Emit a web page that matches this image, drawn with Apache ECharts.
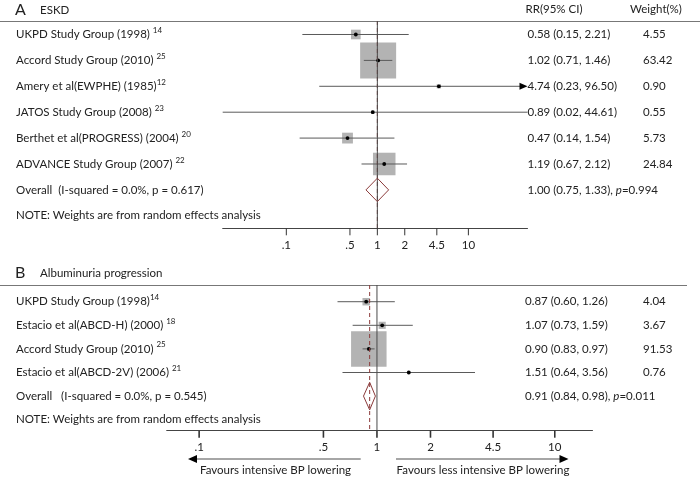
<!DOCTYPE html>
<html><head><meta charset="utf-8">
<script src="https://cdn.jsdelivr.net/npm/echarts@6/dist/echarts.min.js"></script>
<style>html,body{margin:0;padding:0;background:#fff}#c{width:700px;height:477px}</style>
</head><body><div id="c"></div>
<script>
// ---------- DATA ----------
const studiesA = ['UKPD Study Group (1998) ', 'Accord Study Group (2010) ', 'Amery et al(EWPHE) (1985)', 'JATOS Study Group (2008) ', 'Berthet et al(PROGRESS) (2004) ', 'ADVANCE Study Group (2007) '];
const refsA = ['14', '25', '12', '23', '20', '22'];
const rrA = [0.58, 1.02, 4.74, 0.89, 0.47, 1.19];
const lowA = [0.15, 0.71, 0.23, 0.02, 0.14, 0.67];
const highA = [2.21, 1.46, 96.50, 44.61, 1.54, 2.12];
const weightA = [4.55, 63.42, 0.90, 0.55, 5.73, 24.84];
const overallA = [1.00, 0.75, 1.33];
const overallPA = '0.994';
const overallLabelA = 'Overall  (I-squared = 0.0%, p = 0.617)';

const studiesB = ['UKPD Study Group (1998)', 'Estacio et al(ABCD-H) (2000) ', 'Accord Study Group (2010) ', 'Estacio et al(ABCD-2V) (2006) '];
const refsB = ['14', '18', '25', '21'];
const rrB = [0.87, 1.07, 0.90, 1.51];
const lowB = [0.60, 0.73, 0.83, 0.64];
const highB = [1.26, 1.59, 0.97, 3.56];
const weightB = [4.04, 3.67, 91.53, 0.76];
const overallB = [0.91, 0.84, 0.98];
const overallPB = '0.011';
const overallLabelB = 'Overall   (I-squared = 0.0%, p = 0.545)';

const tickValues = [0.1, 0.5, 1, 2, 4.5, 10];
const tickLabels = ['.1', '.5', '1', '2', '4.5', '10'];
const noteText = 'NOTE: Weights are from random effects analysis';
const nullValue = 1;

// ---------- LAYOUT ----------
const FONT = 'Lato';
const TXT = '#222';
const panels = [
  { studies: studiesA, refs: refsA, rr: rrA, low: lowA, high: highA, weight: weightA,
    overall: overallA, p: overallPA, overallLabel: overallLabelA,
    left: 222.7, right: 527.5, top: 21, bottom: 228.3, xmin: 0.02, xmax: 44.61,
    ymin: -0.521, ymax: 7.483, boxMax: 36, dH: 11.7, tickW: 1, ciX: 527.5, wX: 643 },
  { studies: studiesB, refs: refsB, rr: rrB, low: lowB, high: highB, weight: weightB,
    overall: overallB, p: overallPB, overallLabel: overallLabelB,
    left: 166.7, right: 592.5, top: 285, bottom: 430.7, xmin: 0.0657, xmax: 16.3,
    ymin: -0.708, ymax: 5.466, boxMax: 35.5, dH: 13.8, tickW: 1.6, ciX: 525, wX: 643 }
];

const grids = [], xAxes = [], yAxes = [], series = [];
panels.forEach((p, k) => {
  grids.push({ left: p.left, top: p.top, width: p.right - p.left, height: p.bottom - p.top, containLabel: false });
  xAxes.push({ type: 'log', logBase: 10, gridIndex: k, min: p.xmin, max: p.xmax,
    axisLine: { show: true, onZero: false, lineStyle: { color: '#444', width: 1 } },
    axisTick: { show: false }, axisLabel: { show: false }, splitLine: { show: false } });
  yAxes.push({ type: 'value', gridIndex: k, inverse: true, min: p.ymin, max: p.ymax, show: false });

  const n = p.studies.length;
  const wMax = Math.max(...p.weight);
  const studyData = p.rr.map((v, i) => [v, i, p.low[i], p.high[i], p.weight[i]]);

  // study markers
  series.push({
    type: 'custom', xAxisIndex: k, yAxisIndex: k, clip: false, z: 2, silent: true,
    encode: { x: 0, y: 1 }, data: studyData,
    renderItem: (params, api) => {
      const y = api.value(1);
      const c = api.coord([api.value(0), y]);
      const lo = api.value(2), hi = api.value(3);
      const pl = api.coord([Math.max(lo, p.xmin), y]);
      const ph = api.coord([Math.min(hi, p.xmax), y]);
      const side = p.boxMax * Math.sqrt(api.value(4) / wMax);
      const arrow = hi > p.xmax;
      const ch = [];
      ch.push({ type: 'rect', shape: { x: c[0] - side / 2, y: c[1] - side / 2, width: side, height: side }, style: { fill: '#b3b3b3' } });
      ch.push({ type: 'line', shape: { x1: pl[0], y1: pl[1], x2: arrow ? ph[0] - 7 : ph[0], y2: ph[1] }, style: { stroke: '#5a5a5a', lineWidth: 1 } });
      if (arrow) ch.push({ type: 'polygon', shape: { points: [[ph[0] - 8, ph[1] - 3.5], [ph[0], ph[1]], [ph[0] - 8, ph[1] + 3.5]] }, style: { fill: '#000' } });
      ch.push({ type: 'circle', shape: { cx: c[0], cy: c[1], r: 1.9 }, style: { fill: '#000' } });
      return { type: 'group', children: ch };
    }
  });

  // reference lines (overall dashed, null solid)
  series.push({
    type: 'custom', xAxisIndex: k, yAxisIndex: k, clip: false, z: 4, silent: true,
    encode: { x: 0 }, data: [[p.overall[0], 1], [nullValue, 0]],
    renderItem: (params, api) => {
      const v = api.value(0);
      const a = api.coord([v, p.ymin]), b = api.coord([v, p.ymax]);
      const solid = api.value(1) === 0;
      return { type: 'line', shape: { x1: a[0], y1: a[1], x2: b[0], y2: b[1] },
        style: solid ? { stroke: '#4a4a4a', lineWidth: 1 } : { stroke: '#8b3a3a', lineWidth: 1, lineDash: [4, 3] } };
    }
  });

  // overall diamond
  series.push({
    type: 'custom', xAxisIndex: k, yAxisIndex: k, clip: false, z: 5, silent: true,
    encode: { x: 0, y: 1 }, data: [[p.overall[0], n, p.overall[1], p.overall[2]]],
    renderItem: (params, api) => {
      const y = api.value(1);
      const c = api.coord([api.value(0), y]);
      const l = api.coord([api.value(2), y]);
      const r = api.coord([api.value(3), y]);
      return { type: 'polygon', shape: { points: [[l[0], c[1]], [c[0], c[1] - p.dH], [r[0], c[1]], [c[0], c[1] + p.dH]] },
        style: { fill: 'transparent', stroke: '#8b3a3a', lineWidth: 1 } };
    }
  });

  // row texts (left labels + right columns)
  const rowData = [];
  for (let i = 0; i < n + 2; i++) rowData.push([1, i]);
  series.push({
    type: 'custom', xAxisIndex: k, yAxisIndex: k, clip: false, z: 6, silent: true,
    encode: { x: 0, y: 1 }, data: rowData,
    renderItem: (params, api) => {
      const i = api.value(1);
      const y = api.coord([1, i])[1];
      const base = { fontFamily: FONT, fontSize: 11.5, fill: TXT, verticalAlign: 'middle', align: 'left', lineHeight: 16 };
      const ch = [];
      let left, ci = null, w = null;
      if (i < n) {
        left = p.studies[i] + '{sup|' + p.refs[i] + '}';
        ci = p.rr[i].toFixed(2) + ' (' + p.low[i].toFixed(2) + ', ' + p.high[i].toFixed(2) + ')';
        w = p.weight[i].toFixed(2);
      } else if (i === n) {
        left = p.overallLabel;
        ci = p.overall[0].toFixed(2) + ' (' + p.overall[1].toFixed(2) + ', ' + p.overall[2].toFixed(2) + '), {it|p}=' + p.p;
      } else {
        left = noteText;
      }
      const rich = { sup: { fontFamily: FONT, fontSize: 8, fill: TXT, verticalAlign: 'top', lineHeight: 9 },
                     it: { fontFamily: FONT, fontSize: 11.5, fontStyle: 'italic', fill: TXT, lineHeight: 16 } };
      ch.push({ type: 'text', x: 16, y: y, style: Object.assign({ text: left, rich: rich }, base) });
      if (ci) ch.push({ type: 'text', x: p.ciX, y: y, style: Object.assign({ text: ci, rich: rich }, base) });
      if (w) ch.push({ type: 'text', x: p.wX, y: y, style: Object.assign({ text: w }, base) });
      return { type: 'group', children: ch };
    }
  });

  // ticks + tick labels
  series.push({
    type: 'custom', xAxisIndex: k, yAxisIndex: k, clip: false, z: 6, silent: true,
    encode: { x: 0 }, data: tickValues.map(v => [v]),
    renderItem: (params, api) => {
      const a = api.coord([api.value(0), p.ymax]);
      return { type: 'group', children: [
        { type: 'line', shape: { x1: a[0], y1: a[1], x2: a[0], y2: a[1] + 7 }, style: { stroke: '#333', lineWidth: p.tickW } },
        { type: 'text', x: a[0], y: a[1] + 16.5, style: { text: tickLabels[params.dataIndex], fontFamily: FONT, fontSize: 11.5, fill: TXT, align: 'center', verticalAlign: 'middle' } }
      ] };
    }
  });
});

const hdr = (x, y, t, fs) => ({ type: 'text', x: x, y: y, silent: true, style: { text: t, fontFamily: FONT, fontSize: fs || 11.5, fill: TXT, verticalAlign: 'middle', align: 'left' } });
const chart = echarts.init(document.getElementById('c'), null, { renderer: 'canvas' });
chart.setOption({
  animation: false,
  backgroundColor: '#fff',
  grid: grids, xAxis: xAxes, yAxis: yAxes, series: series,
  graphic: [
    hdr(15, 10, 'A', 16), hdr(40, 10, 'ESKD'),
    hdr(525.5, 9.5, 'RR(95% CI)'), hdr(630, 9.5, 'Weight(%)'),
    { type: 'line', silent: true, shape: { x1: 0, y1: 21.5, x2: 700, y2: 21.5 }, style: { stroke: '#777', lineWidth: 1.2 } },
    hdr(15, 273, 'B', 16), hdr(40, 273.5, 'Albuminuria progression'),
    { type: 'line', silent: true, shape: { x1: 0, y1: 285.5, x2: 687, y2: 285.5 }, style: { stroke: '#777', lineWidth: 1.2 } },
    { type: 'line', silent: true, shape: { x1: 196, y1: 459, x2: 360.7, y2: 459 }, style: { stroke: '#888', lineWidth: 1.5 } },
    { type: 'polygon', silent: true, shape: { points: [[188, 459], [197, 455], [197, 463]] }, style: { fill: '#000' } },
    { type: 'line', silent: true, shape: { x1: 396, y1: 459, x2: 560, y2: 459 }, style: { stroke: '#888', lineWidth: 1.5 } },
    { type: 'polygon', silent: true, shape: { points: [[568.5, 459], [559.5, 455], [559.5, 463]] }, style: { fill: '#000' } },
    { type: 'text', x: 275.5, y: 470.5, silent: true, style: { text: 'Favours intensive BP lowering', fontFamily: FONT, fontSize: 11.5, fill: TXT, align: 'center', verticalAlign: 'middle' } },
    { type: 'text', x: 483, y: 470.5, silent: true, style: { text: 'Favours less intensive BP lowering', fontFamily: FONT, fontSize: 11.5, fill: TXT, align: 'center', verticalAlign: 'middle' } }
  ]
});
</script>
</body></html>
